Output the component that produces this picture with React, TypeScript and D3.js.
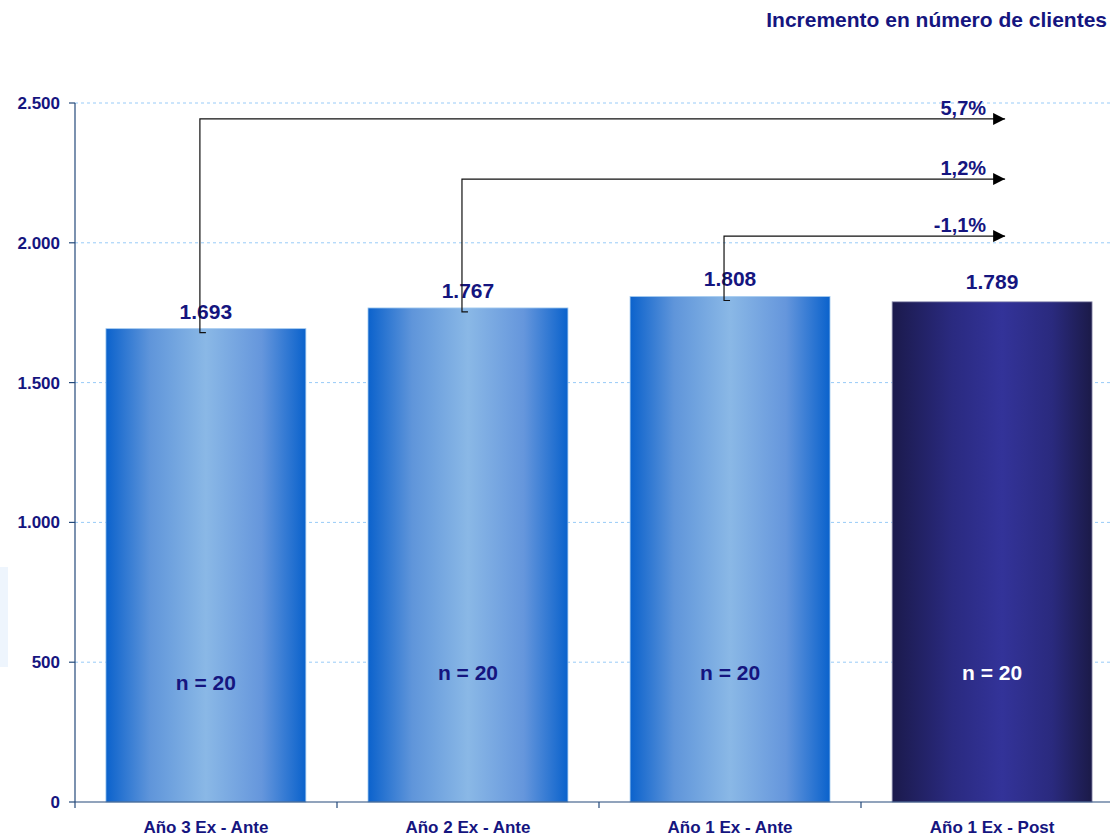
import { useEffect, useRef } from 'react';
import * as d3 from 'd3';

const categories = ['Año 3 Ex - Ante', 'Año 2 Ex - Ante', 'Año 1 Ex - Ante', 'Año 1 Ex - Post'];
const clientes = [1693, 1767, 1808, 1789];
const muestras = [20, 20, 20, 20];
const yTicks = [0, 500, 1000, 1500, 2000, 2500];

// bracket arrows: from bar index to the last bar, drawn at a given level
const arrowFrom = [0, 1, 2];
const arrowLevel = [2443, 2228, 2024];
const arrowLabels = ['5,7%', '1,2%', '-1,1%'];

const W = 1110;
const H = 838;
const NAVY = '#15157f';
const FONT = 'Arial, "Liberation Sans", sans-serif';

function fmt(v: number): string {
  return d3.format(',')(v).replace(/,/g, '.');
}

export default function App() {
  const svgRef = useRef<SVGSVGElement>(null);

  useEffect(() => {
    document.body.style.margin = '0';
    document.body.style.overflow = 'hidden';
    if (!svgRef.current) return;
    const svg = d3.select(svgRef.current);
    svg.selectAll('*').remove();

    const margin = { top: 103, left: 75, bottom: 36 };
    const innerH = H - margin.top - margin.bottom;
    const bandW = 262;

    const x = d3.scaleBand<string>()
      .domain(categories)
      .range([margin.left, margin.left + bandW * categories.length])
      .paddingInner(0.237)
      .paddingOuter(0.118);

    const y = d3.scaleLinear()
      .domain([0, 2500])
      .range([margin.top + innerH, margin.top]);

    const defs = svg.append('defs');
    const blue = defs.append('linearGradient').attr('id', 'gBlue');
    [[0, '#0b62cc'], [0.22, '#5f95da'], [0.5, '#8ab8e6'], [0.78, '#6596dc'], [1, '#0a62cc']]
      .forEach(([o, c]) => blue.append('stop').attr('offset', o as number).attr('stop-color', c as string));
    const dark = defs.append('linearGradient').attr('id', 'gDark');
    [[0, '#1b1a4c'], [0.3, '#2a2a80'], [0.55, '#333399'], [0.8, '#2a2a7e'], [1, '#1b1a48']]
      .forEach(([o, c]) => dark.append('stop').attr('offset', o as number).attr('stop-color', c as string));

    svg.append('rect').attr('width', W).attr('height', H).attr('fill', '#ffffff');

    // faint block at left edge
    svg.append('rect')
      .attr('x', 0).attr('y', 567).attr('width', 8).attr('height', 100)
      .attr('fill', '#eef5fd');

    // title
    svg.append('text')
      .attr('x', W - 3).attr('y', 27)
      .attr('text-anchor', 'end')
      .attr('fill', NAVY)
      .attr('font-family', FONT).attr('font-weight', 'bold').attr('font-size', 21)
      .text('Incremento en número de clientes');

    // gridlines
    svg.append('g')
      .selectAll('line')
      .data(yTicks.filter(t => t > 0))
      .join('line')
      .attr('x1', margin.left).attr('x2', W)
      .attr('y1', d => y(d)).attr('y2', d => y(d))
      .attr('stroke', '#98cbf8')
      .attr('stroke-width', 1)
      .attr('stroke-dasharray', '3,3');

    // bars
    svg.append('g')
      .selectAll('rect')
      .data(clientes)
      .join('rect')
      .attr('x', (_, i) => x(categories[i])!)
      .attr('y', d => y(d))
      .attr('width', x.bandwidth())
      .attr('height', d => y(0) - y(d))
      .attr('fill', (_, i) => (i === 3 ? 'url(#gDark)' : 'url(#gBlue)'))
      .attr('stroke', (_, i) => (i === 3 ? '#9a9ab8' : '#a6ccf0'))
      .attr('stroke-width', 0.8);

    // value labels
    svg.append('g')
      .selectAll('text')
      .data(clientes)
      .join('text')
      .attr('x', (_, i) => x(categories[i])! + x.bandwidth() / 2)
      .attr('y', d => y(d) - (d === 1789 ? 13 : 10))
      .attr('text-anchor', 'middle')
      .attr('fill', NAVY)
      .attr('font-family', FONT).attr('font-weight', 'bold').attr('font-size', 21)
      .text(d => fmt(d));

    // n labels
    svg.append('g')
      .selectAll('text')
      .data(muestras)
      .join('text')
      .attr('x', (_, i) => x(categories[i])! + x.bandwidth() / 2)
      .attr('y', (_, i) => (i === 0 ? 690 : 680))
      .attr('text-anchor', 'middle')
      .attr('fill', (_, i) => (i === 3 ? '#ffffff' : NAVY))
      .attr('font-family', FONT).attr('font-weight', 'bold').attr('font-size', 21)
      .text(d => `n = ${d}`);

    // axes
    const axisColor = '#24497a';
    svg.append('line')
      .attr('x1', margin.left).attr('x2', margin.left)
      .attr('y1', y(2500)).attr('y2', y(0) + 6)
      .attr('stroke', axisColor).attr('stroke-width', 1.2);
    svg.append('line')
      .attr('x1', margin.left).attr('x2', W)
      .attr('y1', y(0)).attr('y2', y(0))
      .attr('stroke', axisColor).attr('stroke-width', 1.2);

    const yAxis = svg.append('g');
    yTicks.forEach(t => {
      yAxis.append('line')
        .attr('x1', margin.left - 6).attr('x2', margin.left)
        .attr('y1', y(t)).attr('y2', y(t))
        .attr('stroke', axisColor).attr('stroke-width', 1.2);
      yAxis.append('text')
        .attr('x', margin.left - 15).attr('y', y(t) + 6)
        .attr('text-anchor', 'end')
        .attr('fill', NAVY)
        .attr('font-family', FONT).attr('font-weight', 'bold').attr('font-size', 17)
        .text(fmt(t));
    });

    const xAxis = svg.append('g');
    categories.forEach((c, i) => {
      const bx = margin.left + bandW * (i + 1);
      if (i < categories.length - 1) {
        xAxis.append('line')
          .attr('x1', bx).attr('x2', bx)
          .attr('y1', y(0)).attr('y2', y(0) + 6)
          .attr('stroke', axisColor).attr('stroke-width', 1.2);
      }
      xAxis.append('text')
        .attr('x', x(c)! + x.bandwidth() / 2)
        .attr('y', 833)
        .attr('text-anchor', 'middle')
        .attr('fill', NAVY)
        .attr('font-family', FONT).attr('font-weight', 'bold').attr('font-size', 17)
        .text(c);
    });

    // bracket arrows
    defs.append('marker')
      .attr('id', 'arrowHead')
      .attr('viewBox', '0 0 10 10')
      .attr('refX', 10).attr('refY', 5)
      .attr('markerWidth', 12).attr('markerHeight', 12)
      .attr('markerUnits', 'userSpaceOnUse')
      .attr('orient', 'auto')
      .append('path')
      .attr('d', 'M0,0 L10,5 L0,10 Z')
      .attr('fill', '#000');

    const lastCenter = x(categories[3])! + x.bandwidth() / 2;
    const arrowEnd = lastCenter + 13;
    const arrows = svg.append('g');
    arrowFrom.forEach((bi, k) => {
      const sx = x(categories[bi])! + x.bandwidth() / 2 - 6;
      const sy = y(clientes[bi]) + 4;
      const ly = y(arrowLevel[k]);
      arrows.append('path')
        .attr('d', `M${sx + 6},${sy} L${sx},${sy} L${sx},${ly} L${arrowEnd},${ly}`)
        .attr('fill', 'none')
        .attr('stroke', '#111')
        .attr('stroke-width', 1.2)
        .attr('marker-end', 'url(#arrowHead)');
      arrows.append('text')
        .attr('x', arrowEnd - 19).attr('y', ly - 4)
        .attr('text-anchor', 'end')
        .attr('fill', NAVY)
        .attr('font-family', FONT).attr('font-weight', 'bold').attr('font-size', 20)
        .text(arrowLabels[k]);
    });
  }, []);

  return (
    <div style={{ position: 'absolute', left: 0, top: 0, width: W, height: H, overflow: 'hidden' }}>
      <svg ref={svgRef} width={W} height={H} style={{ display: 'block' }} />
    </div>
  );
}
